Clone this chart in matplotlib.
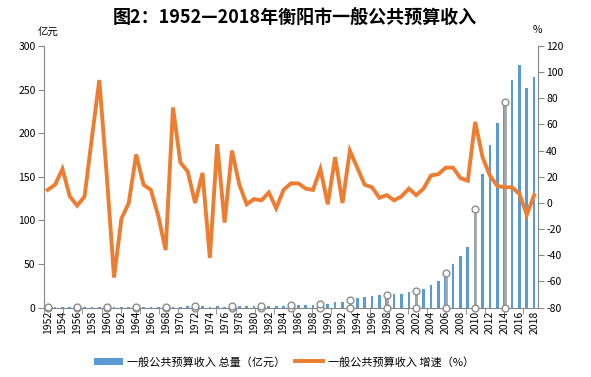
import matplotlib
matplotlib.use("Agg")

import matplotlib.pyplot as plt
import matplotlib.patches as mpatches
from matplotlib.lines import Line2D
import numpy as np

plt.rcParams["font.family"] = ["Noto Sans CJK SC", "DejaVu Sans"]
plt.rcParams["axes.unicode_minus"] = False

BAR_COLOR = "#5B9BD5"
LINE_COLOR = "#ED7D31"
AXIS_COLOR = "#868686"
PIN_COLOR = "#A6A6A6"

years = list(range(1952, 2019))

# 一般公共预算收入 总量（亿元）
revenue = [
    0.22, 0.26, 0.32, 0.34, 0.33, 0.35, 0.52, 1.00, 1.24, 0.53,
    0.47, 0.47, 0.64, 0.73, 0.80, 0.72, 0.46, 0.80, 1.05, 1.30,
    1.30, 1.60, 0.93, 1.35, 1.15, 1.60, 1.80, 1.80, 1.90, 1.90,
    2.10, 2.00, 2.20, 2.50, 2.90, 3.20, 3.50, 4.50, 4.40, 6.00,
    6.00, 8.40, 10.6, 12.1, 13.6, 14.1, 15.0, 15.3, 16.0, 17.8,
    18.9, 21.0, 25.4, 31.0, 39.4, 50.0, 59.5, 69.6, 113.0, 153.0,
    187.0, 212.0, 236.0, 261.0, 278.0, 252.0, 265.0,
]

# 一般公共预算收入 增速（%）
growth = [
    10, 14, 26, 5, -2, 5, 50, 94, 22, -57,
    -12, 0, 37, 14, 10, -10, -36, 73, 31, 24,
    0, 23, -42, 45, -15, 40, 14, -1, 3, 2,
    8, -4, 10, 15, 15, 11, 10, 26, -1, 35,
    0, 40, 27, 14, 12, 4, 6, 2, 5, 11,
    6, 11, 21, 22, 27, 27, 19, 17, 62, 35,
    21, 13, 12, 12, 7, -9, 6,
]

# years carrying the grey pin markers
pin_years = [1952, 1956, 1960, 1964, 1968, 1972, 1977, 1981,
             1985, 1989, 1993, 1998, 2002, 2006, 2010, 2014]

x = np.arange(len(years))

fig = plt.figure(figsize=(5.91, 3.77), dpi=100, facecolor="white")
ax = fig.add_axes([0.0745, 0.184, 0.8355, 0.694])
ax2 = ax.twinx()

ax.bar(x, revenue, width=0.36, color=BAR_COLOR, zorder=2)

# pins: grey stem from 0 to bar top with open circles at both ends
pin_idx = [years.index(y) for y in pin_years]
pin_x = x[pin_idx]
pin_top = [revenue[i] for i in pin_idx]
ax.vlines(pin_x, 0, pin_top, color=PIN_COLOR, linewidth=2.0, zorder=3)
ax.scatter(pin_x, [0] * len(pin_x), s=24, facecolor="white",
           edgecolor="#8C8C8C", linewidth=1.0, zorder=4, clip_on=False)
ax.scatter(pin_x, pin_top, s=24, facecolor="white",
           edgecolor="#8C8C8C", linewidth=1.0, zorder=4, clip_on=False)

ax2.plot(x, growth, color=LINE_COLOR, linewidth=2.8,
         solid_joinstyle="miter", zorder=5)

ax.set_xlim(-0.5, len(years) - 0.5)
ax.set_ylim(0, 300)
ax.set_yticks(range(0, 301, 50))
ax2.set_ylim(-80, 120)
ax2.set_yticks(range(-80, 121, 20))

ax.set_xticks(x[::2])
ax.set_xticklabels([str(y) for y in years[::2]], rotation=90, fontsize=7.5)
ax.set_xticks(np.arange(-0.5, len(years), 2.6), minor=True)

for a in (ax, ax2):
    for s in a.spines.values():
        s.set_visible(False)
    a.tick_params(colors="black", labelsize=7.5, length=4, width=0.8)

ax.spines["left"].set_visible(True)
ax.spines["left"].set_color(AXIS_COLOR)
ax.spines["bottom"].set_visible(True)
ax.spines["bottom"].set_color(AXIS_COLOR)
ax2.spines["right"].set_visible(True)
ax2.spines["right"].set_color(AXIS_COLOR)

ax.tick_params(axis="y", color=AXIS_COLOR, pad=2)
ax.tick_params(axis="x", which="major", length=0, pad=2)
ax.tick_params(axis="x", which="minor", length=4, color=AXIS_COLOR)
ax2.tick_params(axis="y", color=AXIS_COLOR, pad=2)

fig.text(48 / 591, 1 - 33 / 377, "亿元", fontsize=7.5, ha="center", va="center")
fig.text(537 / 591, 1 - 30 / 377, "%", fontsize=7.5, ha="center", va="center")

fig.text(295 / 591, 1 - 18 / 377, "图2：1952—2018年衡阳市一般公共预算收入",
         fontsize=13, fontweight="bold", ha="center", va="center")

handles = [
    mpatches.Patch(facecolor=BAR_COLOR, edgecolor="none"),
    Line2D([0], [0], color=LINE_COLOR, linewidth=2.8),
]
labels = ["一般公共预算收入 总量（亿元）", "一般公共预算收入 增速（%）"]
fig.legend(handles, labels, loc="center", ncol=2,
           bbox_to_anchor=(284 / 591, 1 - 362 / 377), frameon=False,
           fontsize=8, handlelength=2.6, handleheight=0.7,
           columnspacing=0.8, handletextpad=0.4)

fig.savefig("out.png", dpi=100, facecolor="white")
